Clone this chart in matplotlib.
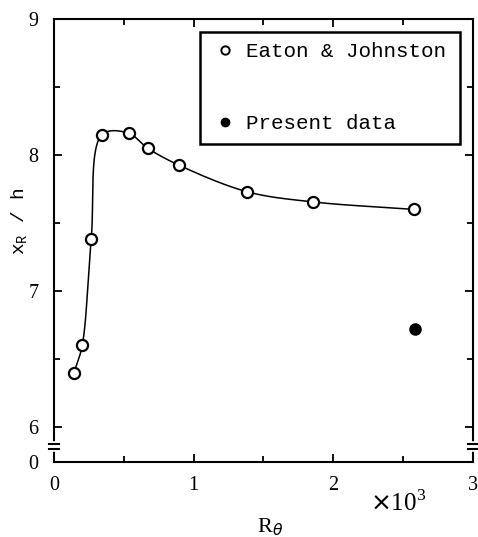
import numpy as np
import matplotlib
matplotlib.use('Agg')
import matplotlib.pyplot as plt
from matplotlib.lines import Line2D

# Eaton & Johnston (x in 10^3 units of R_theta)
ej_x = [0.143, 0.202, 0.266, 0.344, 0.534, 0.670, 0.895, 1.382, 1.853, 2.577]
ej_y = [6.40, 6.60, 7.38, 8.15, 8.16, 8.05, 7.925, 7.73, 7.655, 7.60]
# present data
pd_x = [2.582]
pd_y = [6.72]

ytick_pos = [5.743, 6, 7, 8, 9]
ytick_lab = ['0', '6', '7', '8', '9']
xtick_pos = [0, 1, 2, 3]


def catmull_rom(x, y, sx=140.0, sy=136.0, n=40, alpha=0.5):
    # centripetal catmull-rom through the points (done in screen-like units)
    P = np.column_stack([np.asarray(x) * sx, np.asarray(y) * sy])
    P = np.vstack([2*P[0] - P[1], P, 2*P[-1] - P[-2]])
    out = []
    for i in range(1, len(P) - 2):
        p0, p1, p2, p3 = P[i-1], P[i], P[i+1], P[i+2]
        t0 = 0.0
        t1 = t0 + np.linalg.norm(p1 - p0) ** alpha
        t2 = t1 + np.linalg.norm(p2 - p1) ** alpha
        t3 = t2 + np.linalg.norm(p3 - p2) ** alpha
        t = np.linspace(t1, t2, n)[:, None]
        a1 = (t1 - t)/(t1 - t0)*p0 + (t - t0)/(t1 - t0)*p1
        a2 = (t2 - t)/(t2 - t1)*p1 + (t - t1)/(t2 - t1)*p2
        a3 = (t3 - t)/(t3 - t2)*p2 + (t - t2)/(t3 - t2)*p3
        b1 = (t2 - t)/(t2 - t0)*a1 + (t - t0)/(t2 - t0)*a2
        b2 = (t3 - t)/(t3 - t1)*a2 + (t - t1)/(t3 - t1)*a3
        c = (t2 - t)/(t2 - t1)*b1 + (t - t1)/(t2 - t1)*b2
        out.append(c)
    c = np.vstack(out)
    return c[:, 0] / sx, c[:, 1] / sy


plt.rcParams['font.family'] = 'Liberation Serif'
fig = plt.figure(figsize=(4.78, 5.37), dpi=100)
ax = fig.add_axes([0.113, 0.1397, 0.8765, 0.825])

cx, cy = catmull_rom(ej_x, ej_y)
ax.plot(cx, cy, 'k-', lw=1.1)
ax.plot(ej_x, ej_y, 'o', ms=8, mfc='white', mec='black', mew=1.6)
ax.plot(pd_x, pd_y, 'o', ms=8, mfc='black', mec='black')

ax.set_xlim(0, 3)
ax.set_ylim(5.743, 9)
ax.set_xticks(xtick_pos)
ax.set_xticks([0.5, 1.5, 2.5], minor=True)
ax.set_yticks(ytick_pos)
ax.set_yticklabels(ytick_lab)
ax.set_yticks([6.5, 7.5, 8.5], minor=True)
ax.tick_params(which='both', direction='in', top=True, right=True,
               labelsize=14.5, width=1.3)
ax.tick_params(which='major', length=6)
ax.tick_params(which='minor', length=4)
ax.tick_params(axis='x', pad=10)
ax.tick_params(axis='y', pad=11)
for s in ax.spines.values():
    s.set_linewidth(1.5)

# axis break marks on both side spines
for xb in (0, 3):
    ax.plot([xb, xb], [5.835, 5.878], color='white', lw=4, clip_on=False, zorder=5)
    for yb in (5.835, 5.878):
        ax.plot([xb - 0.035, xb + 0.035], [yb, yb], 'k-', lw=1.5,
                clip_on=False, zorder=6)

ax.set_ylabel(r'x$_\mathregular{R}$ / h', fontsize=14, family='Liberation Mono')
ax.yaxis.label.set_va('center')
ax.yaxis.set_label_coords(-0.081, 0.544)
ax.set_xlabel(r'R$_\theta$', fontsize=16)
ax.xaxis.label.set_va('center')
ax.xaxis.set_label_coords(0.515, -0.147)
fig.text(0.774, 0.048, r'$\times$10$^\mathregular{3}$', fontsize=18, va='baseline')

handles = [Line2D([], [], ls='none', marker='o', ms=6, mfc='white', mec='black', mew=1.4),
           Line2D([], [], ls='none', marker='o', ms=6, mfc='black', mec='black')]
leg = ax.legend(handles, ['Eaton & Johnston', 'Present data'],
                loc='upper left', bbox_to_anchor=(0.348, 0.709, 0.621, 0.262),
                mode='expand', borderaxespad=0, handlelength=1.4,
                handletextpad=0.3, labelspacing=2.55, borderpad=0.5,
                fancybox=False, framealpha=1,
                prop={'family': 'Liberation Mono', 'size': 15})
leg.get_frame().set_edgecolor('black')
leg.get_frame().set_linewidth(1.8)

fig.savefig('out.png', dpi=100)
